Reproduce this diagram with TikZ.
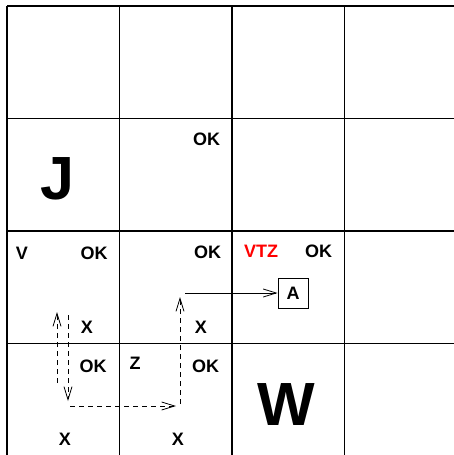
\documentclass[tikz,border=0pt]{standalone}
\usepackage{fontspec}
\setmainfont{Liberation Sans}
\usetikzlibrary{arrows.meta}
\begin{document}
\begin{tikzpicture}[x=1pt,y=-1pt,
  gridline/.style={line width=1.3pt,black},
  lbl/.style={anchor=base,inner sep=0pt,font=\fontsize{18}{18}\selectfont\bfseries},
  big/.style={anchor=base,inner sep=0pt,font=\fontsize{61}{61}\selectfont\bfseries},
  dasharrow/.style={line width=0.8pt,dash pattern=on 5pt off 4pt,-{Straight Barb[length=13pt,width=8pt,line width=0.8pt]}},
  solidarrow/.style={line width=0.8pt,-{Straight Barb[length=13pt,width=8pt,line width=0.8pt]}},
  boxnode/.style={draw,line width=0.8pt,minimum size=30pt,inner sep=0pt,font=\fontsize{18}{18}\selectfont\bfseries}]
\useasboundingbox (0,0) rectangle (454,455);
\fill[white] (0,0) rectangle (454,455);
% grid
\foreach \x in {7,119.5,232,344.5} \draw[gridline] (\x,6) -- (\x,455);
\foreach \y in {6,118.5,231,343.5} \draw[gridline] (7,\y) -- (454,\y);
% labels
\node[lbl] (ok1) at (206.5,145) {OK};
\node[big] (j) at (57.5,199) {J};
\node[lbl] (v) at (22,259) {V};
\node[lbl] (ok2) at (94,259) {OK};
\node[lbl] (ok3) at (207.5,258) {OK};
\node[lbl,text=red] (vtz) at (261,257) {VTZ};
\node[lbl] (ok4) at (318.5,257) {OK};
\node[lbl] (x1) at (87,333) {X};
\node[lbl] (x2) at (201,333) {X};
\node[lbl] (ok5) at (93,372) {OK};
\node[lbl] (z) at (135,369) {Z};
\node[lbl] (ok6) at (205.5,372) {OK};
\node[big] (w) at (286,425) {W};
\node[lbl] (x3) at (65,445) {X};
\node[lbl] (x4) at (178,445) {X};
\node[boxnode] (a) at (293,293) {A};
% connectors
\coordinate (u1s) at (57,383);
\coordinate (u1e) at (57,312);
\coordinate (d1s) at (68,315);
\coordinate (d1e) at (68,401);
\coordinate (r1s) at (70,406);
\coordinate (r1e) at (176,406);
\coordinate (u2s) at (180,404);
\coordinate (u2e) at (180,297);
\coordinate (hs) at (185,293);
\draw[dasharrow] (u1s) -- (u1e);
\draw[dasharrow] (d1s) -- (d1e);
\draw[dasharrow] (r1s) -- (r1e);
\draw[dasharrow] (u2s) -- (u2e);
\draw[solidarrow] (hs) -- (a.west);
\end{tikzpicture}
\end{document}
